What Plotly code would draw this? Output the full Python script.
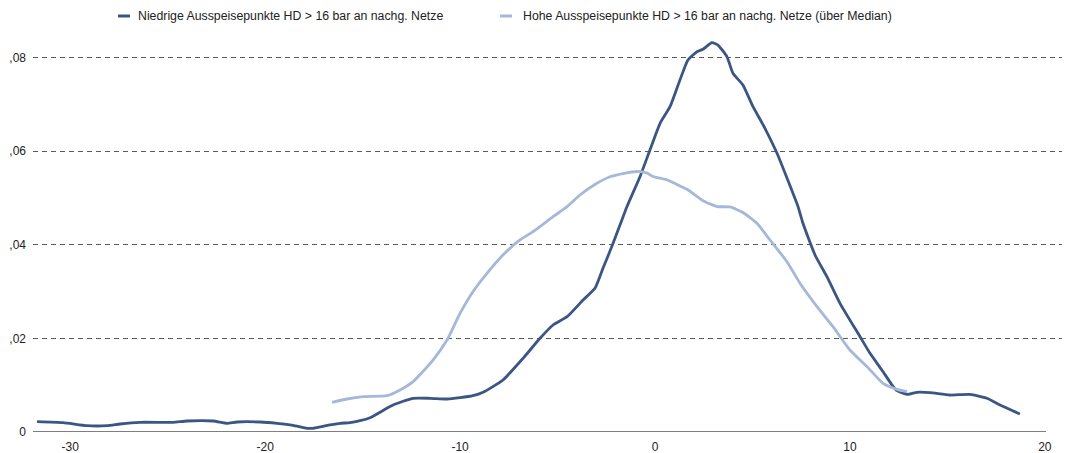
import plotly.graph_objects as go

# ---- data ----
niedrig_x = [-31.70, -30.37, -29.14, -28.11, -27.44, -26.42, -24.73, -24.01, -22.67, -21.96,
             -21.44, -20.26, -19.39, -18.57, -17.85, -17.54, -16.67, -16.16, -15.65, -15.13,
             -14.62, -13.44, -12.41, -11.54, -10.67, -10.00, -9.34, -8.82, -7.80, -6.77,
             -5.90, -5.23, -4.51, -3.69, -3.08, -2.67, -2.15, -1.44, -0.77, -0.26,
             0.26, 0.77, 1.28, 1.69, 2.15, 2.46, 2.92, 3.23, 3.69, 4.00,
             4.51, 5.03, 5.64, 6.26, 6.77, 7.34, 7.59, 8.21, 8.82, 9.49,
             10.52, 11.03, 11.64, 12.16, 12.41, 12.98, 13.44, 14.11, 15.13, 16.16,
             17.03, 17.70, 18.72]
niedrig_y = [0.00220, 0.00199, 0.00135, 0.00135, 0.00171, 0.00207, 0.00207, 0.00235, 0.00235, 0.00186,
             0.00214, 0.00214, 0.00186, 0.00143, 0.00079, 0.00079, 0.00150, 0.00186, 0.00199, 0.00241,
             0.00305, 0.00577, 0.00720, 0.00720, 0.00705, 0.00733, 0.00775, 0.00848, 0.01111, 0.01574,
             0.02002, 0.02286, 0.02463, 0.02820, 0.03070, 0.03497, 0.04031, 0.04813, 0.05454, 0.06024,
             0.06595, 0.06949, 0.07520, 0.07947, 0.08124, 0.08176, 0.08317, 0.08267, 0.08018, 0.07663,
             0.07413, 0.06949, 0.06488, 0.05954, 0.05426, 0.04813, 0.04458, 0.03781, 0.03318, 0.02749,
             0.02036, 0.01681, 0.01325, 0.01004, 0.00882, 0.00805, 0.00848, 0.00840, 0.00790, 0.00805,
             0.00720, 0.00577, 0.00385]

hoch_x = [-16.57, -15.80, -14.98, -13.75, -13.08, -12.41, -11.39, -10.67, -10.00, -9.34,
          -8.62, -7.80, -6.93, -6.26, -5.23, -4.51, -3.85, -2.98, -2.31, -1.64,
          -0.92, -0.41, -0.10, 0.62, 1.64, 2.46, 3.18, 3.85, 4.51, 5.23,
          5.90, 6.77, 7.44, 8.31, 9.13, 10.00, 10.88, 11.70, 12.41, 12.93]
hoch_y = [0.00634, 0.00705, 0.00754, 0.00775, 0.00897, 0.01075, 0.01538, 0.01965, 0.02536, 0.02997,
          0.03390, 0.03781, 0.04102, 0.04279, 0.04599, 0.04813, 0.05063, 0.05313, 0.05454, 0.05522,
          0.05565, 0.05533, 0.05458, 0.05383, 0.05185, 0.04941, 0.04817, 0.04807, 0.04689, 0.04458,
          0.04102, 0.03638, 0.03177, 0.02677, 0.02250, 0.01752, 0.01395, 0.01040, 0.00912, 0.00861]

series_names = ["Niedrige Ausspeisepunkte HD > 16 bar an nachg. Netze",
                "Hohe Ausspeisepunkte HD > 16 bar an nachg. Netze (über Median)"]

y_tickvals = [0, 0.02, 0.04, 0.06, 0.08]
y_ticktext = ["0", ",02", ",04", ",06", ",08"]
x_tickvals = [-30, -20, -10, 0, 10, 20]
x_ticktext = ["-30", "-20", "-10", "0", "10", "20"]

DARK = "#3b5683"
LIGHT = "#a5b8d8"
TEXT = "#222222"
FONT = "Arial, Liberation Sans, sans-serif"

fig = go.Figure()
fig.add_trace(go.Scatter(x=niedrig_x, y=niedrig_y, mode="lines", name=series_names[0],
                         line=dict(color=DARK, width=2.8, shape="spline", smoothing=0.5),
                         showlegend=False))
fig.add_trace(go.Scatter(x=hoch_x, y=hoch_y, mode="lines", name=series_names[1],
                         line=dict(color=LIGHT, width=2.8, shape="spline", smoothing=0.5),
                         showlegend=False))

# x axis baseline (ends a little before plot edge as in reference)
fig.add_shape(type="line", xref="x", yref="y", x0=-31.91, x1=20.06, y0=0, y1=0,
              line=dict(color="#000000", width=1.2), layer="above")

# page body has an 8px margin -> figure is sized/shifted to compensate
OFF = 8
W, H = 1071 - OFF, 453 - OFF
L_S, T_S, R_S, B_S = 33, 30, 1062, 432  # plot area in screenshot pixels
PW, PH = R_S - L_S, B_S - T_S
def px(x):
    return (x - L_S) / PW
def py(y):
    return (B_S - y) / PH

leg = [(118, 130, 136, DARK, series_names[0]), (500, 512, 521, LIGHT, series_names[1])]
for x0, x1, xt, col, name in leg:
    fig.add_shape(type="line", xref="paper", yref="paper", x0=px(x0), x1=px(x1),
                  y0=py(16), y1=py(16), line=dict(color=col, width=3))
    fig.add_annotation(xref="paper", yref="paper", x=px(xt), y=py(16), text=name,
                       showarrow=False, xanchor="left", yanchor="middle",
                       font=dict(family=FONT, size=12.3, color=TEXT))

fig.update_layout(
    width=W, height=H,
    margin=dict(l=L_S - OFF, r=1071 - R_S, t=T_S - OFF, b=453 - B_S),
    paper_bgcolor="white", plot_bgcolor="white",
    font=dict(family=FONT, size=12, color=TEXT),
    showlegend=False,
    xaxis=dict(range=[-31.91, 20.88], tickvals=x_tickvals, ticktext=x_ticktext,
               showgrid=False, zeroline=False, showline=False, ticks="",
               ticklabelstandoff=6, automargin=False,
               tickfont=dict(family=FONT, size=12, color=TEXT)),
    yaxis=dict(range=[0, 0.08588], tickvals=y_tickvals, ticktext=y_ticktext,
               showgrid=True, gridcolor="#5a5a5a", gridwidth=1, griddash="5px,4px",
               zeroline=False, showline=False, ticks="", ticklabelstandoff=6,
               automargin=False,
               tickfont=dict(family=FONT, size=12, color=TEXT)),
)

fig.write_html("out.html")
